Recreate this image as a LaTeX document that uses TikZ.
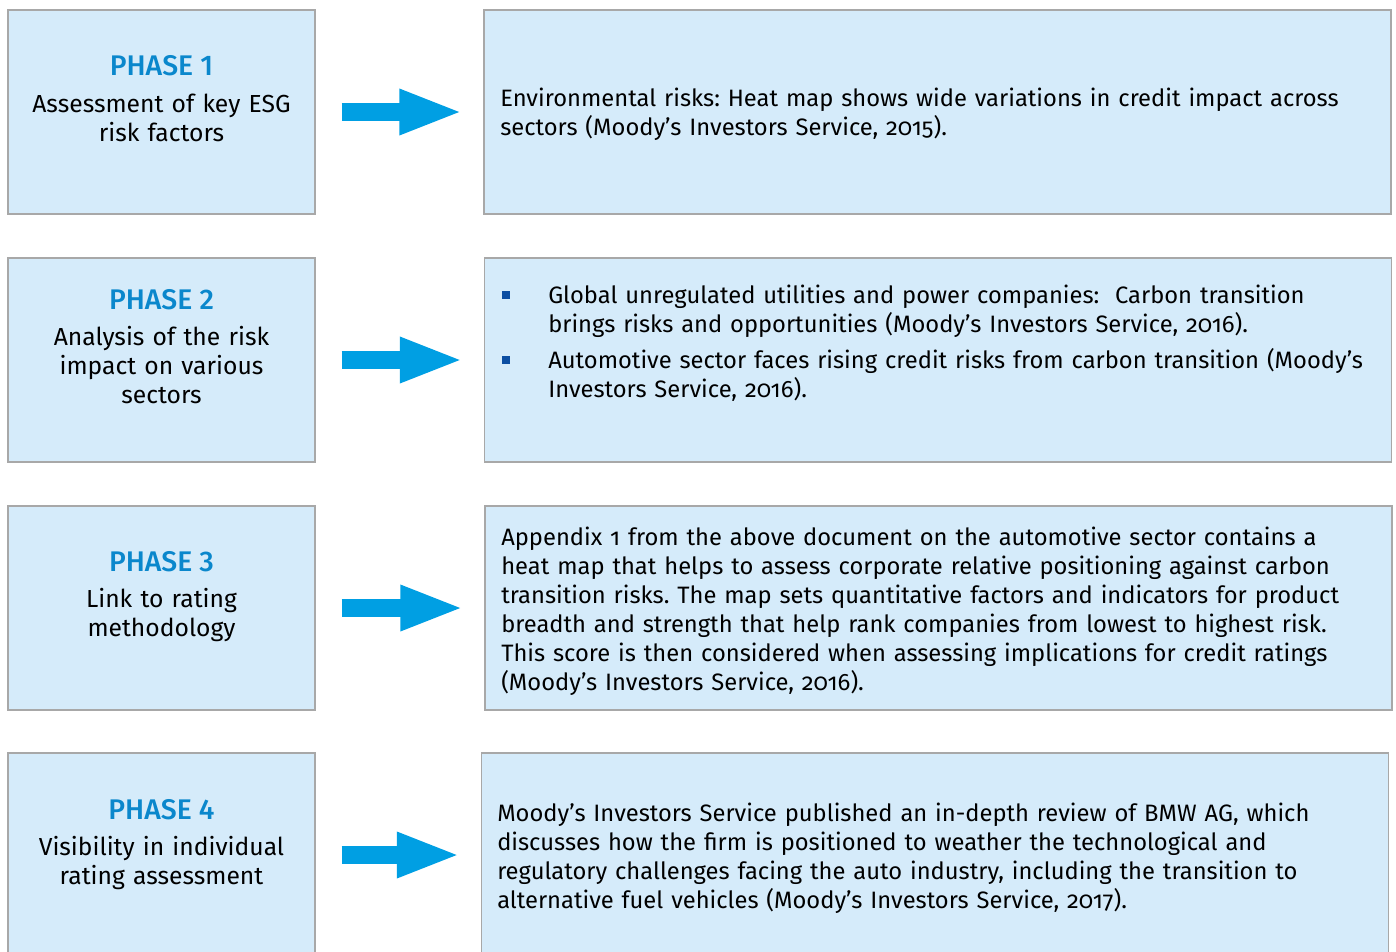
\documentclass[tikz,border=0pt]{standalone}
\usepackage{fontspec}
\setmainfont{Fira Sans}[Numbers=OldStyle]
\newfontfamily\phasefont{Fira Sans Medium}[Numbers=Lining]
\usetikzlibrary{arrows.meta}

\definecolor{boxfill}{HTML}{D5EBFA}
\definecolor{boxline}{HTML}{A8A8A8}
\definecolor{arrowblue}{HTML}{009FE3}
\definecolor{phaseblue}{HTML}{0A87CC}
\definecolor{bulletblue}{HTML}{0B4EA2}

\tikzset{
  stagebox/.style={draw=boxline, fill=boxfill, line width=1pt, inner sep=0pt,
    minimum width=230.25pt, minimum height=153pt},
  detailbox/.style={stagebox, minimum width=680.25pt},
  phasetitle/.style={anchor=base, inner sep=0pt, text=phaseblue,
    font=\phasefont\fontsize{21.3}{24}\selectfont},
  phasetext/.style={anchor=base, inner sep=0pt, text width=228pt, align=center,
    font=\fontsize{18.5}{21.75}\selectfont},
  detailtext/.style={anchor=base west, inner sep=0pt, text width=680pt, align=left,
    font=\fontsize{17.8}{21.75}\selectfont},
  bulletsq/.style={fill=bulletblue, inner sep=0pt, minimum size=6pt},
  bigarrow/.style={arrowblue, line width=13.5pt,
    -{Triangle[length=48pt,width=31pt]}, shorten <=19.5pt, shorten >=15pt},
}

\begin{document}
\frenchspacing
\begin{tikzpicture}[x=0.75pt,y=-0.75pt]
  \useasboundingbox (0,0) rectangle (1396,951);

  % left column: phases
  \node[stagebox] (phase1) at (161.5,112) {};
  \node[stagebox] (phase2) at (161.5,360) {};
  \node[stagebox] (phase3) at (161.5,608) {};
  \node[stagebox] (phase4) at (161.5,855) {};

  % right column: details
  \node[detailbox] (detail1) at (937.5,112) {};
  \node[detailbox] (detail2) at (938,360) {};
  \node[detailbox] (detail3) at (938.5,608) {};
  \node[detailbox] (detail4) at (935,855) {};

  % arrows
  \foreach \i in {1,...,4}
    \draw[bigarrow] (phase\i) -- (detail\i);

  % phase texts
  \node[phasetitle] (title1) at (161.5,75) {PHASE 1};
  \node[phasetext] (desc1) at (161.5,112) {Assessment of key ESG\\risk factors};
  \node[phasetitle] (title2) at (161.5,309) {PHASE 2};
  \node[phasetext] (desc2) at (161.5,345) {Analysis of the risk\\impact on various\\sectors};
  \node[phasetitle] (title3) at (161.5,571) {PHASE 3};
  \node[phasetext] (desc3) at (161.5,607) {Link to rating\\methodology};
  \node[phasetitle] (title4) at (161.5,819) {PHASE 4};
  \node[phasetext] (desc4) at (161.5,855) {Visibility in individual\\rating assessment};

  % detail texts
  \node[detailtext] (text1) at (500,106)
    {Environmental risks: Heat map shows wide variations in credit impact across\\
     sectors (Moody’s Investors Service, 2015).};

  \node[bulletsq] (bul1) at (506,295) {};
  \node[detailtext] (item1) at (548,303)
    {Global unregulated utilities and power companies:\ \ Carbon transition\\
     brings risks and opportunities (Moody’s Investors Service, 2016).};
  \node[bulletsq] (bul2) at (506,360) {};
  \node[detailtext] (item2) at (548,368)
    {Automotive sector faces rising credit risks from carbon transition (Moody’s\\
     Investors Service, 2016).};

  \node[detailtext] (text3) at (501,545)
    {Appendix 1 from the above document on the automotive sector contains a\\
     heat map that helps to assess corporate relative positioning against carbon\\
     transition risks. The map sets quantitative factors and indicators for product\\
     breadth and strength that help rank companies from lowest to highest risk.\\
     This score is then considered when assessing implications for credit ratings\\
     (Moody’s Investors Service, 2016).};

  \node[detailtext] (text4) at (497,821)
    {Moody’s Investors Service published an in-depth review of BMW AG, which\\
     discusses how the firm is positioned to weather the technological and\\
     regulatory challenges facing the auto industry, including the transition to\\
     alternative fuel vehicles (Moody’s Investors Service, 2017).};
\end{tikzpicture}
\end{document}
